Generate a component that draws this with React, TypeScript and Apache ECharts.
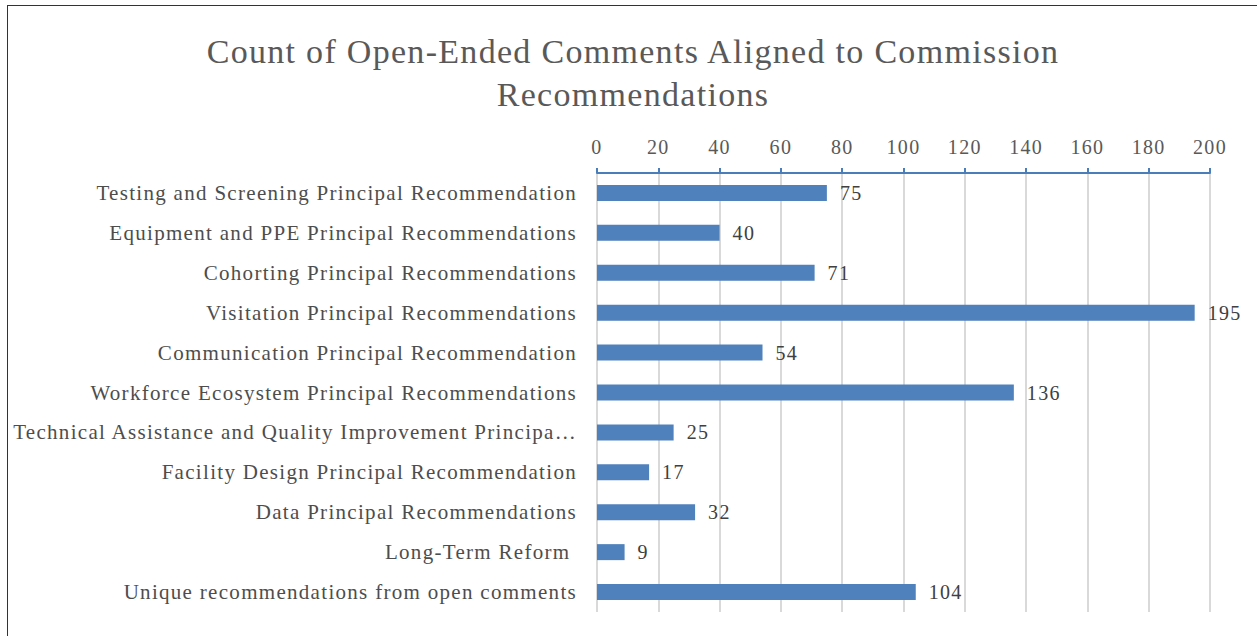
import React, { useEffect, useRef } from "react";
import * as echarts from "echarts";

const categories = [
  "Testing and Screening Principal Recommendation",
  "Equipment and PPE Principal Recommendations",
  "Cohorting Principal Recommendations",
  "Visitation Principal Recommendations",
  "Communication Principal Recommendation",
  "Workforce Ecosystem Principal Recommendations",
  "Technical Assistance and Quality Improvement Principal Recommendations",
  "Facility Design Principal Recommendation",
  "Data Principal Recommendations",
  "Long-Term Reform ",
  "Unique recommendations from open comments",
];
const counts = [75, 40, 71, 195, 54, 136, 25, 17, 32, 9, 104];
const titleText = "Count of Open-Ended Comments Aligned to Commission\nRecommendations";

const FONT = "Liberation Serif";

export default function App() {
  const ref = useRef<HTMLDivElement>(null);
  useEffect(() => {
    if (!ref.current) return;
    const chart = echarts.init(ref.current, null, { renderer: "svg" });
    chart.setOption({
      animation: false,
      backgroundColor: "#ffffff",
      title: {
        text: titleText,
        left: "center",
        top: 19,
        textStyle: {
          fontFamily: FONT,
          fontSize: 34,
          fontWeight: "normal",
          color: "#595959",
          lineHeight: 43,
        },
      },
      grid: { left: 589, top: 167, width: 613, height: 439, containLabel: false },
      xAxis: {
        type: "value",
        position: "top",
        min: 0,
        max: 200,
        interval: 20,
        axisLine: { show: true, lineStyle: { color: "#4a7ebb", width: 2 } },
        axisTick: { show: true, length: 5, lineStyle: { color: "#4a7ebb", width: 2 } },
        axisLabel: { fontFamily: FONT, fontSize: 20, color: "#595959", margin: 16 },
        splitLine: { show: true, lineStyle: { color: "#d9d9d9", width: 2 } },
      },
      yAxis: {
        type: "category",
        inverse: true,
        data: categories,
        axisLine: { show: false },
        axisTick: { show: false },
        axisLabel: {
          fontFamily: FONT,
          fontSize: 21,
          color: "#4d4d4d",
          margin: 20,
          width: 496,
          overflow: "truncate",
          ellipsis: "…",
        },
      },
      series: [
        {
          type: "bar",
          data: counts,
          barWidth: 16,
          itemStyle: { color: "#4f81bd" },
          label: {
            show: true,
            position: "right",
            distance: 13,
            fontFamily: FONT,
            fontSize: 20,
            color: "#404040",
          },
        },
      ],
    });
    return () => chart.dispose();
  }, []);
  return (
    <div
      style={{
        position: "fixed",
        left: 7,
        top: 5,
        width: 1250,
        height: 640,
        border: "1px solid #333",
        background: "#fff",
      }}
    >
      <style>{`.chart-root svg text { letter-spacing: 1.3px; }`}</style>
      <div className="chart-root" ref={ref} style={{ width: 1250, height: 640 }} />
    </div>
  );
}
